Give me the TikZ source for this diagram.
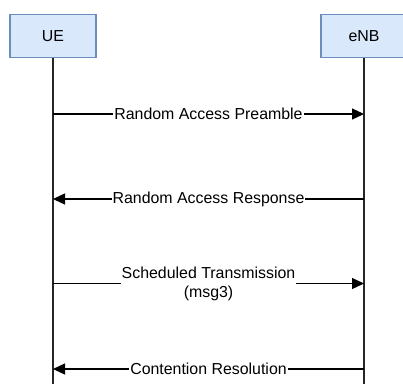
\documentclass[tikz,border=0pt]{standalone}
\usepackage{fontspec}
\setmainfont{Liberation Sans}
\usetikzlibrary{arrows.meta}

\definecolor{boxfill}{HTML}{DAE8FC}
\definecolor{boxline}{HTML}{6C8EBF}

\begin{document}
\begin{tikzpicture}[x=1pt, y=-1pt,
    entity/.style={draw=boxline, fill=boxfill, line width=1.3pt,
      minimum width=86pt, minimum height=43.4pt, inner sep=0pt},
    lifeline/.style={line width=1.4pt, black!85},
    msg/.style={line width=1.3pt, -{Triangle[length=12pt, width=11pt]}},
    msglabel/.style={fill=white, inner sep=1pt, align=center}]
      \useasboundingbox (0,0) rectangle (403,383);
      \fontsize{15.9}{19}\selectfont
      % entities
      \node[entity] (ue) at (53,36) {UE};
      \node[entity] (enb) at (364,36) {eNB};
      \coordinate (ue-end) at (53,384);
      \coordinate (enb-end) at (364,384);
      \draw[lifeline] (ue.south) -- (ue-end);
      \draw[lifeline] (enb.south) -- (enb-end);
      % message points on the lifelines
      \coordinate (ue1) at (53,114);  \coordinate (enb1) at (364,114);
      \coordinate (ue2) at (53,199);  \coordinate (enb2) at (364,199);
      \coordinate (ue3) at (53,283.5);  \coordinate (enb3) at (364,283.5);
      \coordinate (ue4) at (53,369);  \coordinate (enb4) at (364,369);
      % messages
      \draw[msg] (ue1) -- node[msglabel] {Random Access Preamble} (enb1);
      \draw[msg] (enb2) -- node[msglabel] {Random Access Response} (ue2);
      \draw[msg] (ue3) -- node[msglabel] {Scheduled Transmission\\(msg3)} (enb3);
      \draw[msg] (enb4) -- node[msglabel] {Contention Resolution} (ue4);
\end{tikzpicture}
\end{document}
